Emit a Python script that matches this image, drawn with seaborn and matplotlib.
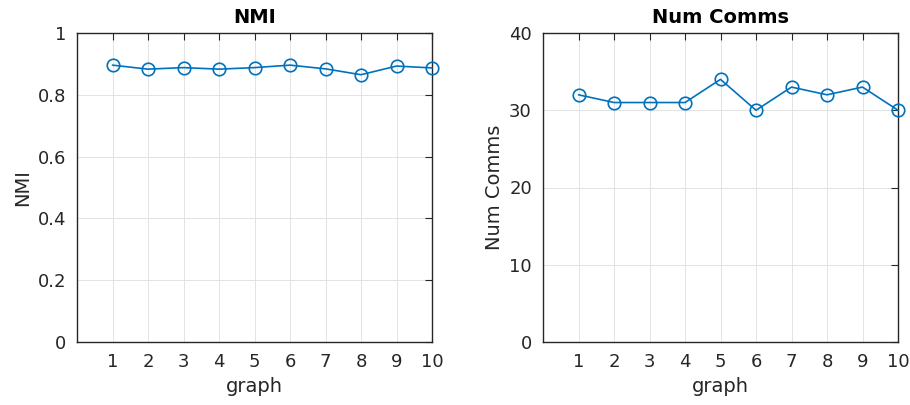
import matplotlib
matplotlib.use("Agg")
import matplotlib.pyplot as plt
import seaborn as sns
import pandas as pd

graphs = [1, 2, 3, 4, 5, 6, 7, 8, 9, 10]
nmi = [0.896, 0.883, 0.888, 0.883, 0.888, 0.896, 0.884, 0.865, 0.893, 0.887]
num_comms = [32, 31, 31, 31, 34, 30, 33, 32, 33, 30]

nmi_ticks = [0, 0.2, 0.4, 0.6, 0.8, 1.0]
nmi_tick_labels = ["0", "0.2", "0.4", "0.6", "0.8", "1"]
comm_ticks = [0, 10, 20, 30, 40]
comm_tick_labels = ["0", "10", "20", "30", "40"]

sns.set_style("white")
plt.rcParams["font.family"] = ["DejaVu Sans"]

line_color = "#0072BD"
text_color = "#262626"

fig = plt.figure(figsize=(9.1, 4.05), dpi=100)
ax1 = fig.add_axes([77 / 910, 63 / 405, 355 / 910, 309 / 405])
ax2 = fig.add_axes([543 / 910, 63 / 405, 355 / 910, 309 / 405])

df = pd.DataFrame({"graph": graphs, "NMI": nmi, "Num Comms": num_comms})

panels = [
    (ax1, "NMI", nmi_ticks, nmi_tick_labels, (0, 1)),
    (ax2, "Num Comms", comm_ticks, comm_tick_labels, (0, 40)),
]

for ax, col, yt, ytl, ylim in panels:
    sns.lineplot(data=df, x="graph", y=col, ax=ax, color=line_color,
                 linewidth=1.2, marker="o", markersize=9,
                 markerfacecolor="none", markeredgecolor=line_color,
                 markeredgewidth=1.2, zorder=3, clip_on=False)
    ax.set_xlim(0, 10)
    ax.set_ylim(*ylim)
    ax.set_xticks(graphs)
    ax.set_xticklabels([str(g) for g in graphs])
    ax.set_yticks(yt)
    ax.set_yticklabels(ytl)
    ax.grid(True, color="#e3e3e3", linewidth=0.7)
    ax.set_axisbelow(True)
    for s in ax.spines.values():
        s.set_visible(True)
        s.set_color(text_color)
        s.set_linewidth(1.0)
    ax.tick_params(direction="in", length=5, width=0.8, colors=text_color,
                   labelsize=13, top=True, right=True, pad=8)
    ax.set_xlabel("graph", fontsize=14, color=text_color, labelpad=4)
    ax.set_ylabel(col, fontsize=14, color=text_color, labelpad=4)
    ax.set_title(col, fontsize=14, fontweight="bold", color="black", pad=7)

fig.savefig("out.png", dpi=100, facecolor="white")
